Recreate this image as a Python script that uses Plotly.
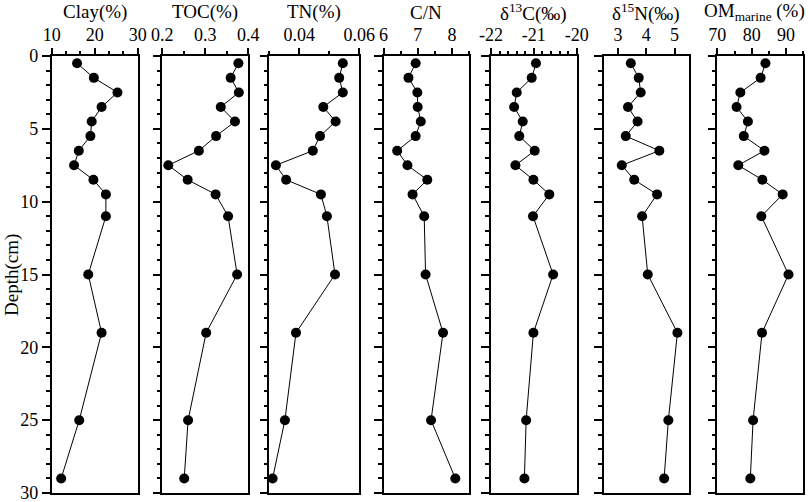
import plotly.graph_objects as go

# --- data ---
depth = [0.5, 1.5, 2.5, 3.5, 4.5, 5.5, 6.5, 7.5, 8.5, 9.5, 11, 15, 19, 25, 29]

clay = [15.9, 19.8, 25.3, 21.6, 19.3, 19.0, 16.3, 15.2, 19.7, 22.6, 22.6, 18.5, 21.6, 16.4, 12.2]
toc = [0.377, 0.359, 0.378, 0.336, 0.369, 0.325, 0.285, 0.214, 0.259, 0.324, 0.353, 0.374, 0.302, 0.260, 0.251]
tn = [0.0545, 0.0533, 0.0545, 0.0480, 0.0521, 0.0469, 0.0445, 0.0322, 0.0356, 0.0472, 0.0492, 0.0519, 0.0389, 0.0352, 0.0311]
cn = [6.94, 6.73, 6.99, 7.00, 7.09, 6.94, 6.40, 6.70, 7.28, 6.85, 7.19, 7.23, 7.74, 7.39, 8.10]
d13c = [-20.95, -21.05, -21.40, -21.46, -21.26, -21.34, -20.98, -21.43, -21.01, -20.64, -21.02, -20.55, -21.01, -21.18, -21.22]
d15n = [3.45, 3.73, 3.80, 3.35, 3.69, 3.27, 4.46, 3.13, 3.57, 4.38, 3.85, 4.05, 5.10, 4.78, 4.63]
om = [84.0, 82.6, 76.7, 75.6, 78.9, 77.7, 83.7, 76.1, 83.1, 89.0, 82.8, 90.7, 83.0, 80.4, 79.6]

titles = ["Clay(%)", "TOC(%)", "TN(%)", "C/N",
          "δ<sup>13</sup>C(‰)", "δ<sup>15</sup>N(‰)", "OM<sub>marine</sub> (%)"]
series = [clay, toc, tn, cn, d13c, d15n, om]

# axis setup per panel: range, major ticks, tick text, minor step
ranges = [[10, 30], [0.2, 0.4], [0.03, 0.06], [6, 8.5], [-22, -20], [2.5, 5.5], [70, 95]]
tickvals = [[10, 20, 30], [0.2, 0.3, 0.4], [0.04, 0.06], [6, 7, 8],
            [-22, -21, -20], [3, 4, 5], [70, 80, 90]]
ticktext = [["10", "20", "30"], ["0.2", "0.3", "0.4"], ["0.04", "0.06"], ["6", "7", "8"],
            ["-22", "-21", "-20"], ["3", "4", "5"], ["70", "80", "90"]]
minor_step = [10 / 3, 0.05, 0.01, 0.5, 0.2, None, 5]

W, H = 809, 502
TOP, BOT = 56, 9
PH = H - TOP - BOT
# panel edges in pixels
edges = [(51.7, 137.7), (162.3, 248.3), (269.3, 359.3), (383.5, 469.0),
         (491.0, 576.7), (604.0, 688.7), (717.3, 803.3)]

FONT = "Liberation Serif"
fig = go.Figure()

for i, vals in enumerate(series):
    n = "" if i == 0 else str(i + 1)
    fig.add_trace(go.Scatter(
        x=vals, y=depth, mode="lines+markers",
        xaxis="x" + n, yaxis="y" + n,
        line=dict(color="black", width=1),
        marker=dict(color="black", size=10),
        showlegend=False, cliponaxis=False,
    ))

    x0, x1 = edges[i]
    xa = dict(
        domain=[x0 / W, x1 / W], range=ranges[i], anchor="y" + n, side="top",
        tickmode="array", tickvals=tickvals[i], ticktext=ticktext[i],
        ticks="outside", ticklen=6, tickwidth=1.5, tickcolor="black",
        showline=True, linecolor="black", linewidth=1.5, mirror=True,
        showgrid=False, zeroline=False, automargin=False, ticklabeloverflow="allow",
        tickfont=dict(family=FONT, size=18, color="black"),
    )
    if minor_step[i]:
        xa["minor"] = dict(dtick=minor_step[i], tick0=ranges[i][0], ticks="outside",
                           ticklen=3, tickwidth=1.5, tickcolor="black", showgrid=False)
    ya = dict(
        range=[30, 0], anchor="x" + n, dtick=5,
        ticks="outside", ticklen=8, tickwidth=1.5, tickcolor="black",
        minor=dict(dtick=1, ticks="outside", ticklen=4, tickwidth=1.5,
                   tickcolor="black", showgrid=False),
        showline=True, linecolor="black", linewidth=1.5, mirror=True,
        showgrid=False, zeroline=False, showticklabels=(i == 0), automargin=False,
        ticklabeloverflow="allow",
        tickfont=dict(family=FONT, size=18, color="black"),
    )
    if i > 0:
        ya["matches"] = "y"
    fig.update_layout(**{"xaxis" + n: xa, "yaxis" + n: ya})

    last = i == len(series) - 1
    fig.add_annotation(text=titles[i],
                       x=(807 if last else (x0 + x1) / 2) / W, y=(H - BOT - 12) / PH,
                       xref="paper", yref="paper", showarrow=False,
                       xanchor="right" if last else "center", yanchor="middle",
                       font=dict(family=FONT, size=19, color="black"))

fig.add_annotation(text="Depth(cm)", x=12 / W, y=(H - BOT - 275) / PH,
                   xref="paper", yref="paper", showarrow=False, textangle=-90,
                   xanchor="center", yanchor="middle",
                   font=dict(family=FONT, size=19, color="black"))

fig.update_layout(
    width=W, height=H,
    margin=dict(l=0, r=0, t=TOP, b=BOT, autoexpand=False),
    plot_bgcolor="white", paper_bgcolor="white",
)

# drop the page's default body margin so the figure sits at the window corner
fig.write_html("out.html", config={"displayModeBar": False},
               post_script="document.body.style.margin='0';")
